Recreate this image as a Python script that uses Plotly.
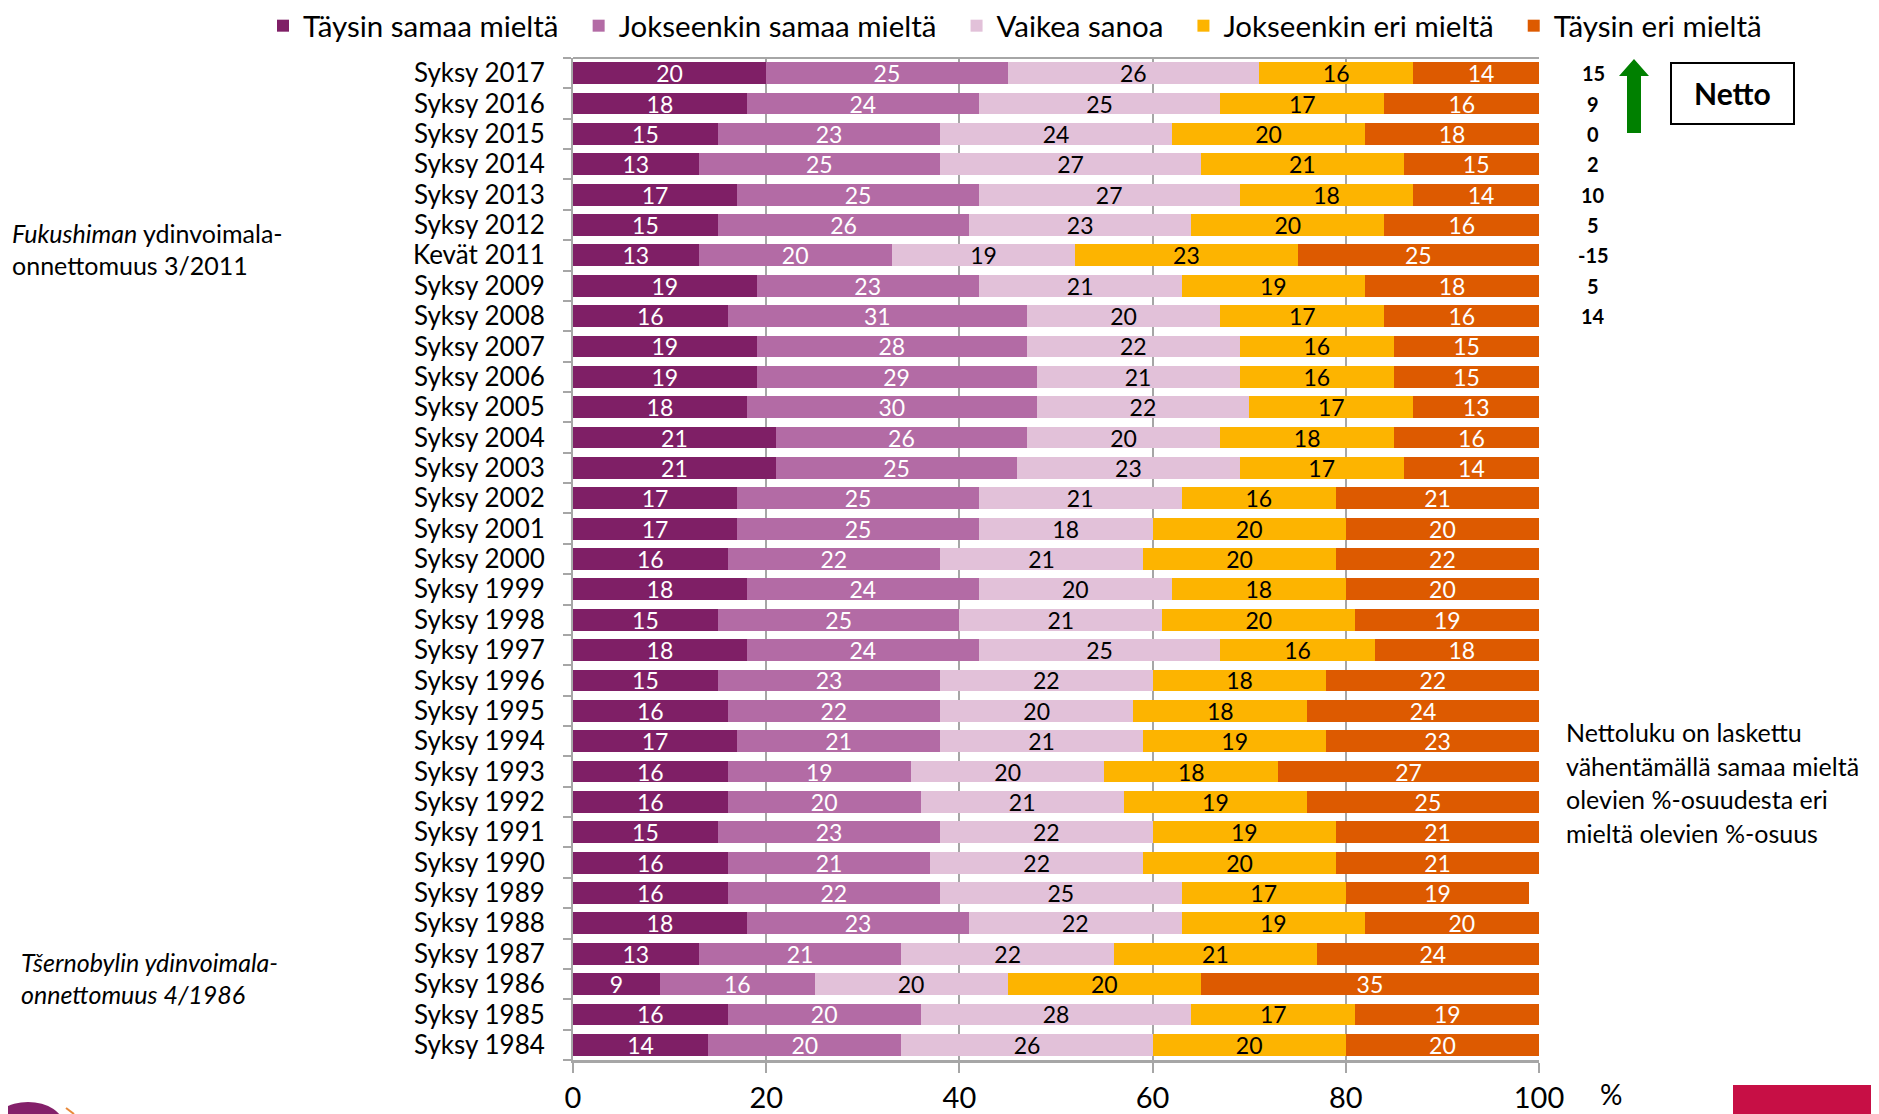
import plotly.graph_objects as go

categories = ["Syksy 2017", "Syksy 2016", "Syksy 2015", "Syksy 2014", "Syksy 2013",
              "Syksy 2012", "Kevät 2011", "Syksy 2009", "Syksy 2008", "Syksy 2007",
              "Syksy 2006", "Syksy 2005", "Syksy 2004", "Syksy 2003", "Syksy 2002",
              "Syksy 2001", "Syksy 2000", "Syksy 1999", "Syksy 1998", "Syksy 1997",
              "Syksy 1996", "Syksy 1995", "Syksy 1994", "Syksy 1993", "Syksy 1992",
              "Syksy 1991", "Syksy 1990", "Syksy 1989", "Syksy 1988", "Syksy 1987",
              "Syksy 1986", "Syksy 1985", "Syksy 1984"]

taysin_samaa = [20, 18, 15, 13, 17, 15, 13, 19, 16, 19, 19, 18, 21, 21, 17, 17, 16,
                18, 15, 18, 15, 16, 17, 16, 16, 15, 16, 16, 18, 13, 9, 16, 14]
jokseenkin_samaa = [25, 24, 23, 25, 25, 26, 20, 23, 31, 28, 29, 30, 26, 25, 25, 25, 22,
                    24, 25, 24, 23, 22, 21, 19, 20, 23, 21, 22, 23, 21, 16, 20, 20]
vaikea_sanoa = [26, 25, 24, 27, 27, 23, 19, 21, 20, 22, 21, 22, 20, 23, 21, 18, 21,
                20, 21, 25, 22, 20, 21, 20, 21, 22, 22, 25, 22, 22, 20, 28, 26]
jokseenkin_eri = [16, 17, 20, 21, 18, 20, 23, 19, 17, 16, 16, 17, 18, 17, 16, 20, 20,
                  18, 20, 16, 18, 18, 19, 18, 19, 19, 20, 17, 19, 21, 20, 17, 20]
taysin_eri = [14, 16, 18, 15, 14, 16, 25, 18, 16, 15, 15, 13, 16, 14, 21, 20, 22,
              20, 19, 18, 22, 24, 23, 27, 25, 21, 21, 19, 20, 24, 35, 19, 20]

netto_categories = ["Syksy 2017", "Syksy 2016", "Syksy 2015", "Syksy 2014", "Syksy 2013",
                    "Syksy 2012", "Kevät 2011", "Syksy 2009", "Syksy 2008"]
netto_values = [15, 9, 0, 2, 10, 5, -15, 5, 14]

series_names = ["Täysin samaa mieltä", "Jokseenkin samaa mieltä", "Vaikea sanoa",
                "Jokseenkin eri mieltä", "Täysin eri mieltä"]
series_values = [taysin_samaa, jokseenkin_samaa, vaikea_sanoa, jokseenkin_eri, taysin_eri]
series_colors = ["#7F1F66", "#B36BA5", "#E2C1D9", "#FDB400", "#DD5A00"]
text_colors = ["white", "white", "black", "black", "white"]

x_ticks = [0, 20, 40, 60, 80, 100]

FONT = "Lato, Carlito, Calibri, sans-serif"
OFF = 8  # page body margin
W, H = 1879 - 2 * OFF, 1114 - OFF
# plot area in screen coordinates
L, R, T, B = 573, 1539, 58, 1060


def px(x):
    return (x - L) / (R - L)


def py(y):
    return (B - y) / (B - T)


GAP = "\u00a0\u00a0"

fig = go.Figure()
for i, (name, vals, col, tcol) in enumerate(zip(series_names, series_values, series_colors, text_colors)):
    legend_name = name + (GAP if i < len(series_names) - 1 else "")
    fig.add_trace(go.Bar(
        y=categories, x=vals, name=legend_name, orientation="h",
        marker=dict(color=col, line=dict(width=0)),
        text=vals, textposition="inside", insidetextanchor="middle", textangle=0,
        textfont=dict(color=tcol, size=23, family=FONT),
        constraintext="none", cliponaxis=True,
    ))

annotations = []
for cat, v in zip(netto_categories, netto_values):
    annotations.append(dict(x=px(1593), xref="paper", y=cat, yref="y", text=str(v),
                            showarrow=False, xanchor="center", yanchor="middle",
                            font=dict(family=FONT, size=20, color="black", weight="bold")))

annotations.append(dict(x=px(1732), xref="paper", y=py(93), yref="paper", text="<b>Netto</b>",
                        showarrow=False, xanchor="center", yanchor="middle",
                        font=dict(family=FONT, size=30, color="black")))

foot = ["Nettoluku on laskettu", "vähentämällä samaa mieltä",
        "olevien %-osuudesta eri", "mieltä olevien %-osuus"]
for i, line in enumerate(foot):
    annotations.append(dict(x=px(1564), xref="paper", y=py(732 + 33.5 * i), yref="paper",
                            text=line, showarrow=False, xanchor="left", yanchor="middle",
                            font=dict(family=FONT, size=25, color="black")))

annotations += [
    dict(x=px(10), xref="paper", y=py(233), yref="paper",
         text="<i>Fukushiman</i> ydinvoimala-", showarrow=False, xanchor="left",
         yanchor="middle", font=dict(family=FONT, size=25, color="black")),
    dict(x=px(10), xref="paper", y=py(265), yref="paper",
         text="onnettomuus 3/2011", showarrow=False, xanchor="left",
         yanchor="middle", font=dict(family=FONT, size=25, color="black")),
    dict(x=px(19), xref="paper", y=py(962), yref="paper",
         text="<i>Tšernobylin ydinvoimala-</i>", showarrow=False, xanchor="left",
         yanchor="middle", font=dict(family=FONT, size=25, color="black")),
    dict(x=px(19), xref="paper", y=py(994), yref="paper",
         text="<i>onnettomuus 4/1986</i>", showarrow=False, xanchor="left",
         yanchor="middle", font=dict(family=FONT, size=25, color="black")),
    dict(x=px(1611), xref="paper", y=py(1094), yref="paper", text="%",
         showarrow=False, xanchor="center", yanchor="middle",
         font=dict(family=FONT, size=28, color="black")),
]

arrow_pts = [(1627, 133), (1627, 76), (1619, 76), (1634, 59), (1649, 76), (1641, 76), (1641, 133)]
path = "M " + " L ".join(f"{px(a):.5f},{py(b):.5f}" for a, b in arrow_pts) + " Z"

shapes = [
    dict(type="path", xref="paper", yref="paper", path=path,
         fillcolor="#008000", line=dict(width=0)),
    dict(type="rect", xref="paper", yref="paper", x0=px(1671), x1=px(1794),
         y0=py(63), y1=py(124), line=dict(color="black", width=2), fillcolor="rgba(0,0,0,0)"),
    dict(type="line", xref="paper", yref="paper", x0=0, x1=1, y0=1, y1=1,
         line=dict(color="#A6A6A6", width=2)),
    dict(type="circle", xref="paper", yref="paper", x0=px(-8), x1=px(64),
         y0=py(1102), y1=py(1150), fillcolor="#84206A", line=dict(width=0)),
    dict(type="line", xref="paper", yref="paper", x0=px(66), x1=px(74),
         y0=py(1108), y1=py(1114), line=dict(color="#E8893A", width=2)),
    dict(type="rect", xref="paper", yref="paper", x0=px(1733), x1=px(1874),
         y0=py(1085), y1=py(1130), fillcolor="#C70F45", line=dict(width=0)),
]

fig.update_layout(
    width=W, height=H,
    margin=dict(l=L - OFF, r=W - (R - OFF), t=T - OFF, b=H - (B - OFF), pad=0, autoexpand=False),
    barmode="stack", bargap=0.28,
    plot_bgcolor="white", paper_bgcolor="white",
    font=dict(family=FONT, size=22, color="black"),
    uniformtext=dict(minsize=22, mode="show"),
    legend=dict(orientation="h", xref="paper", x=px(263), xanchor="left",
                yref="paper", y=py(26), yanchor="middle",
                font=dict(family=FONT, size=29.5, color="black"), traceorder="normal",
                itemwidth=30, bgcolor="rgba(0,0,0,0)"),
    annotations=annotations, shapes=shapes,
    showlegend=True,
)
fig.update_xaxes(range=[0, 100], tickvals=x_ticks, ticktext=[str(t) for t in x_ticks],
                 showgrid=True, gridcolor="#A6A6A6", gridwidth=2, zeroline=False,
                 showline=True, linecolor="#A6A6A6", linewidth=3,
                 ticks="outside", ticklen=10, tickcolor="#A6A6A6", tickwidth=2,
                 tickfont=dict(family=FONT, size=29, color="black"))
fig.update_yaxes(categoryorder="array", categoryarray=categories, autorange="reversed",
                 tickmode="array", tickvals=categories, ticktext=categories,
                 showline=True, linecolor="#A6A6A6", linewidth=2,
                 ticks="outside", tickson="boundaries", ticklen=8, tickcolor="#A6A6A6",
                 tickwidth=2, showgrid=False,
                 tickfont=dict(family=FONT, size=26, color="black"), ticklabelstandoff=21)

fig.write_html("out.html")
